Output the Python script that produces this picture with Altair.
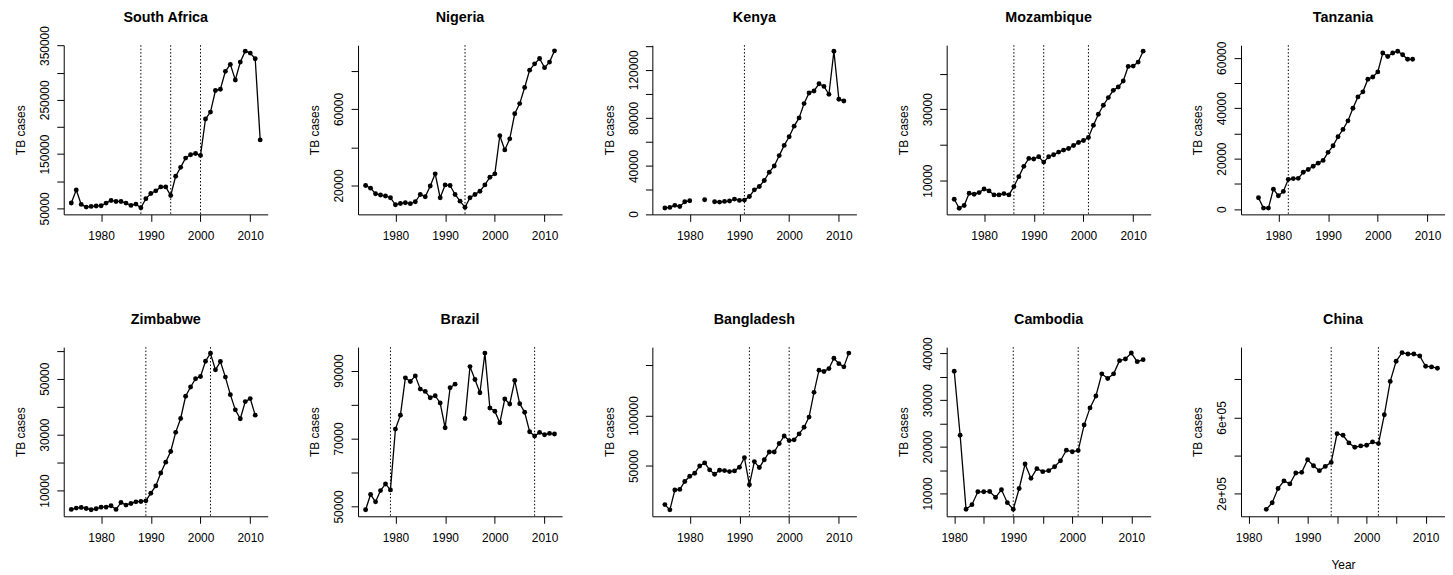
import altair as alt
import pandas as pd

# ---------------- data ----------------
COUNTRIES = ["South Africa", "Nigeria", "Kenya", "Mozambique", "Tanzania",
             "Zimbabwe", "Brazil", "Bangladesh", "Cambodia", "China"]

SA_START = 1974
SA_CASES = [60000, 84000, 57300, 52400, 53700, 54300, 54900, 59800, 64600, 62800,
            62800, 59800, 55500, 57900, 51200, 67700, 77400, 82300, 89600, 89600,
            73800, 109100, 125600, 142700, 148800, 151200, 147600, 214600, 227400, 267100,
            269500, 302400, 315200, 286600, 319500, 339600, 336000, 325600, 176200]
SA_BREAKS = [1988, 1994, 2000]

NG_START = 1974
NG_CASES = [20000, 18600, 15700, 15000, 14500, 13600, 9900, 10600, 11000, 10500,
            11500, 15300, 14100, 19700, 26100, 13600, 20300, 20000, 15300, 11800,
            8600, 13600, 15300, 17000, 20300, 24300, 26100, 46000, 38600, 44400,
            57500, 62800, 71200, 80300, 83600, 86400, 81600, 84500, 90400]
NG_BREAKS = [1994]

KE_START = 1975
KE_CASES = [5000, 5500, 7200, 6300, 10200, 11000, None, None, 11900, None,
            10200, 9900, 10500, 10800, 12400, 11300, 11600, 14600, 20100, 22900,
            27900, 34800, 40000, 48600, 57100, 64300, 73100, 80000, 91900, 100700,
            102400, 108400, 106200, 99600, 135500, 95500, 94100]
KE_BREAKS = [1991]

MZ_START = 1974
MZ_CASES = [4800, 2280, 3020, 6460, 6190, 6650, 7670, 7120, 6000, 6000,
            6370, 6000, 8330, 11120, 14000, 16230, 16050, 16700, 15200, 16700,
            17260, 18000, 18560, 19020, 19860, 20700, 21260, 22090, 25530, 28600,
            31120, 33260, 35300, 36230, 37910, 42000, 42090, 43210, 46280]
MZ_BREAKS = [1986, 1992, 2001]

TZ_START = 1976
TZ_CASES = [4500, 400, 400, 7900, 5300, 7000, 11800, 12100, 12200, 14600,
            15700, 17000, 18200, 19300, 22500, 25100, 28700, 31600, 35000, 40000,
            44500, 46500, 51500, 52400, 54400, 61900, 60500, 61900, 62600, 61200,
            59400, 59400]
TZ_BREAKS = [1982]

ZW_START = 1974
ZW_CASES = [3260, 3730, 3970, 3610, 3140, 3490, 4090, 4090, 4560, 3260,
            5740, 4800, 5390, 5980, 6100, 6330, 9050, 11660, 16270, 20170,
            23960, 30820, 35790, 43720, 47030, 50000, 50800, 56250, 59090, 53180,
            56140, 50580, 44310, 38870, 35670, 41820, 42890, 36970]
ZW_BREAKS = [1989, 2002]

BR_START = 1974
BR_CASES = [49030, 53500, 51360, 54670, 56620, 54870, 72770, 76850, 87850, 86780,
            88430, 84540, 83860, 82010, 82600, 80450, 73160, 84930, 86000, None,
            75880, 91160, 87360, 83470, 95150, 78990, 78020, 74620, 81620, 80160,
            87070, 80260, 77730, 71990, 70720, 71790, 71110, 71500, 71310]
BR_BREAKS = [1979, 2008]

BD_START = 1975
BD_CASES = [11600, 6400, 26100, 26700, 34600, 39800, 42800, 50000, 53000, 46100,
            41800, 45700, 45400, 44400, 45100, 48700, 58200, 31300, 54300, 48400,
            56200, 63800, 63800, 72300, 79800, 75200, 75900, 81800, 88400, 98500,
            123100, 145100, 143800, 146700, 156900, 151600, 148400, 162100]
BD_BREAKS = [1992, 2000]

KH_START = 1980
KH_CASES = [36180, 22460, 6600, 7590, 10350, 10350, 10420, 9150, 10780, 8020,
            6600, 11060, 16300, 13260, 15310, 14670, 14880, 15730, 17010, 19270,
            18920, 19200, 24650, 28330, 30880, 35620, 34630, 35620, 38450, 38800,
            40080, 38240, 38660]
KH_BREAKS = [1990, 2001]

CN_START = 1983
CN_CASES = [116500, 151300, 226100, 266100, 250400, 307800, 311300, 377400, 346100, 320000,
            342600, 363500, 514800, 506100, 466100, 443500, 450400, 453900, 471300, 462600,
            613900, 789500, 895600, 940800, 933800, 933800, 923400, 869500, 866000, 859100]
CN_BREAKS = [1994, 2002]

# axis tick values and which of them carry a label
X_TICKS_10 = [1980, 1990, 2000, 2010]
X_TICKS_5 = [1980, 1985, 1990, 1995, 2000, 2005, 2010]
X_LABELS = [1980, 1990, 2000, 2010]

SA_YTICKS = [50000, 100000, 150000, 200000, 250000, 300000, 350000]
SA_YLABELS = [50000, 150000, 250000, 350000]
NG_YTICKS = [20000, 40000, 60000, 80000]
NG_YLABELS = [20000, 60000]
KE_YTICKS = [0, 20000, 40000, 60000, 80000, 100000, 120000, 140000]
KE_YLABELS = [0, 40000, 80000, 120000]
MZ_YTICKS = [10000, 20000, 30000, 40000]
MZ_YLABELS = [10000, 30000]
TZ_YTICKS = [0, 10000, 20000, 30000, 40000, 50000, 60000]
TZ_YLABELS = [0, 20000, 40000, 60000]
ZW_YTICKS = [10000, 20000, 30000, 40000, 50000, 60000]
ZW_YLABELS = [10000, 30000, 50000]
BR_YTICKS = [50000, 60000, 70000, 80000, 90000]
BR_YLABELS = [50000, 70000, 90000]
BD_YTICKS = [50000, 100000, 150000]
BD_YLABELS = [50000, 100000]
KH_YTICKS = [10000, 15000, 20000, 25000, 30000, 35000, 40000]
KH_YLABELS = [10000, 20000, 30000, 40000]
CN_YTICKS = [200000, 400000, 600000, 800000]
CN_YLABELS = [200000, 600000]
CN_YLABEL_TEXT = ["2e+05", "6e+05"]

# ---------------- scale ranges (R-style 4% extension) ----------------
XDOM_A = [1972.48, 2013.52]
XDOM_B = [1978.72, 2013.28]

PANELS = [
    (COUNTRIES[0], SA_START, SA_CASES, SA_BREAKS, XDOM_A, [39000, 350600], SA_YTICKS, SA_YLABELS, None, X_TICKS_10),
    (COUNTRIES[1], NG_START, NG_CASES, NG_BREAKS, XDOM_A, [4900, 93350], NG_YTICKS, NG_YLABELS, None, X_TICKS_10),
    (COUNTRIES[2], KE_START, KE_CASES, KE_BREAKS, XDOM_A, [-300, 140500], KE_YTICKS, KE_YLABELS, None, X_TICKS_10),
    (COUNTRIES[3], MZ_START, MZ_CASES, MZ_BREAKS, XDOM_A, [550, 47950], MZ_YTICKS, MZ_YLABELS, None, X_TICKS_10),
    (COUNTRIES[4], TZ_START, TZ_CASES, TZ_BREAKS, XDOM_A, [-2100, 65000], TZ_YTICKS, TZ_YLABELS, None, X_TICKS_10),
    (COUNTRIES[5], ZW_START, ZW_CASES, ZW_BREAKS, XDOM_A, [800, 61300], ZW_YTICKS, ZW_YLABELS, None, X_TICKS_10),
    (COUNTRIES[6], BR_START, BR_CASES, BR_BREAKS, XDOM_A, [47100, 96900], BR_YTICKS, BR_YLABELS, None, X_TICKS_10),
    (COUNTRIES[7], BD_START, BD_CASES, BD_BREAKS, XDOM_A, [0, 168000], BD_YTICKS, BD_YLABELS, None, X_TICKS_10),
    (COUNTRIES[8], KH_START, KH_CASES, KH_BREAKS, XDOM_B, [5100, 41350], KH_YTICKS, KH_YLABELS, None, X_TICKS_5),
    (COUNTRIES[9], CN_START, CN_CASES, CN_BREAKS, XDOM_B, [80000, 970000], CN_YTICKS, CN_YLABELS, CN_YLABEL_TEXT, X_TICKS_5),
]

FONT = "Liberation Sans"
W, H = 205, 170


def label_expr(values, texts=None):
    if texts is None:
        texts = [str(v) for v in values]
    expr = "''"
    for v, t in reversed(list(zip(values, texts))):
        expr = f"datum.value == {v} ? '{t}' : ({expr})"
    return expr


def make_panel(name, start, cases, breaks, xdom, ydom, yticks, ylabels, ytexts, xticks):
    years = list(range(start, start + len(cases)))
    df = pd.DataFrame({"Year": years, "Cases": [float("nan") if c is None else c for c in cases]})
    vdf = pd.DataFrame({"Year": breaks})
    tdf = pd.DataFrame({"Country": [name]})

    is_last = name == COUNTRIES[-1]
    xaxis_kwargs = dict(values=xticks, labelExpr=label_expr(X_LABELS))
    if is_last:
        xaxis_kwargs.update(title="Year", titleY=52.0, titleBaseline="alphabetic",
                            titleFontWeight="normal", titleFontSize=12)
    else:
        xaxis_kwargs.update(title=None)

    x = alt.X("Year:Q", scale=alt.Scale(domain=xdom, nice=False, zero=False),
              axis=alt.Axis(**xaxis_kwargs))
    y = alt.Y("Cases:Q", scale=alt.Scale(domain=ydom, nice=False, zero=False),
              axis=alt.Axis(values=yticks, labelExpr=label_expr(ylabels, ytexts),
                            title="TB cases"))

    rules = alt.Chart(vdf).mark_rule(color="black", strokeWidth=1, strokeDash=[1.5, 2]).encode(x=x)
    line = alt.Chart(df).mark_line(color="black", strokeWidth=1.3,
                                   invalid="break-paths-filter-domains").encode(x=x, y=y)
    pts = alt.Chart(df).mark_circle(color="black", size=24, opacity=1).encode(x=x, y=y)
    title = alt.Chart(tdf).mark_text(
        font=FONT, fontSize=14.4, fontWeight="bold", color="black",
        align="center", baseline="alphabetic",
    ).encode(x=alt.value(W / 2), y=alt.value(-23.3), text="Country:N")
    return alt.layer(rules, line, pts, title).properties(width=W, height=H)


panels = [make_panel(*p) for p in PANELS]

chart = alt.concat(
    *panels, columns=5, spacing={"row": 133.4, "column": 90.75}, bounds="flush"
).properties(
    padding={"left": 6, "top": 0, "right": 0, "bottom": 0},
    background="white",
).configure(
    font=FONT,
).configure_view(
    stroke=None,
).configure_axis(
    domainColor="black", tickColor="black", labelColor="black", titleColor="black",
    labelFont=FONT, titleFont=FONT, labelFontSize=12, titleFontSize=12,
    titleFontWeight="normal", grid=False, tickSize=7, domainWidth=1, tickWidth=1,
    labelOverlap=False, labelFlush=False,
).configure_axisX(
    labelBaseline="top", labelPadding=9, labelAngle=0, labelAlign="center",
).configure_axisY(
    labelAngle=270, labelAlign="center", labelBaseline="bottom", labelPadding=5.2,
    titleAngle=270, titleAlign="center", titleBaseline="alphabetic",
    titleX=-39.3, titleY=H / 2,
)

chart.save("out.html", embed_options={"renderer": "svg", "actions": False})
